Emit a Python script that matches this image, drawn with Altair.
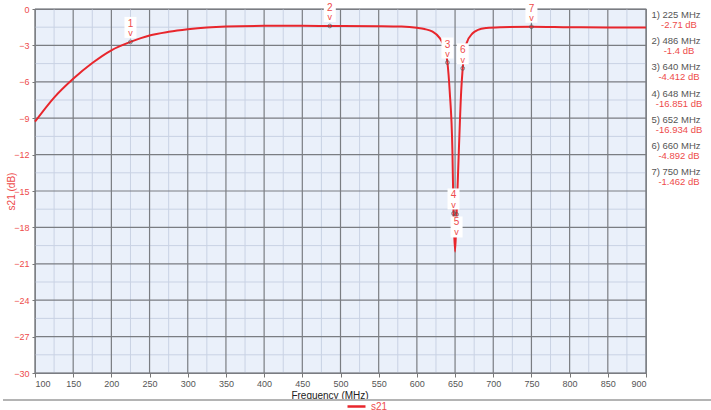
import altair as alt
import pandas as pd

# ---- data ----
freq = [100, 125, 150, 175, 200, 225, 250, 275, 300, 325, 350, 400, 450, 486, 550, 580, 600, 610, 620, 630,
        635, 640, 643, 646.5, 648, 650, 652, 655, 658, 660, 665, 673, 680, 691, 710, 750, 800, 850, 900]
s21 = [-9.29, -7.3, -5.75, -4.45, -3.4, -2.71, -2.18, -1.88, -1.67, -1.52, -1.44, -1.39, -1.38, -1.40, -1.42, -1.45, -1.55, -1.65, -1.85, -2.4,
       -3.0, -4.41, -6.8, -11.6, -16.85, -20.0, -16.93, -11.6, -6.8, -4.89, -2.83, -2.0, -1.72, -1.57, -1.5, -1.46, -1.5, -1.52, -1.53]

marker_no = [1, 2, 3, 4, 5, 6, 7]
marker_freq = [225, 486, 640, 648, 652, 660, 750]
marker_db = [-2.71, -1.4, -4.412, -16.851, -16.934, -4.892, -1.462]
marker_below = [False, False, False, False, True, False, False]

x_major = list(range(100, 901, 50))
x_minor = list(range(125, 900, 50))
y_major = list(range(-30, 1, 3))
y_minor = [-28.5, -25.5, -22.5, -19.5, -16.5, -13.5, -10.5, -7.5, -4.5, -1.5]

FONT = "Liberation Sans"
RED = "#e8262c"
LRED = "#ee4b4b"

curve = pd.DataFrame({"freq": freq, "s21": s21, "series": ["s21"] * len(freq)})
markers = pd.DataFrame({"no": marker_no, "f": marker_freq, "db": marker_db, "below": marker_below})

xs = alt.Scale(domain=[100, 900], nice=False, zero=False)
ys = alt.Scale(domain=[-30, 0], nice=False, zero=False)
xaxis = alt.Axis(values=x_major, title="Frequency (MHz)", grid=False, domain=False,
                 labelColor="#555555", labelFontSize=9, labelFont=FONT, labelPadding=2,
                 tickColor="#777777", tickSize=4, titleFont=FONT, titleFontSize=10,
                 titleFontWeight="normal", titleColor="#222222", titleX=294.5, titleY=22,
                 titleBaseline="middle", titleAnchor="start", titleAlign="center")
yaxis = alt.Axis(values=y_major, title="s21 (dB)", grid=False, domain=False,
                 labelColor=LRED, labelFontSize=9, labelFont=FONT, labelPadding=3,
                 tickColor="#777777", tickSize=3, titleFont=FONT, titleFontSize=10,
                 titleFontWeight="normal", titleColor=LRED, titleX=-24, titleBaseline="middle")


def X(field):
    return alt.X(field, type="quantitative", scale=xs, axis=xaxis)


def Y(field):
    return alt.Y(field, type="quantitative", scale=ys, axis=yaxis)


minor_x = alt.Chart(pd.DataFrame({"v": x_minor})).mark_rule(color="#c9d2e4", strokeWidth=1).encode(x=X("v"))
minor_y = alt.Chart(pd.DataFrame({"v": y_minor})).mark_rule(color="#c9d2e4", strokeWidth=1).encode(y=Y("v"))
major_x = alt.Chart(pd.DataFrame({"v": x_major})).mark_rule(color="#7a7d82", strokeWidth=1.2).encode(x=X("v"))
major_y = alt.Chart(pd.DataFrame({"v": y_major})).mark_rule(color="#7a7d82", strokeWidth=1.2).encode(y=Y("v"))

line = alt.Chart(curve).mark_line(strokeWidth=2, interpolate="monotone").encode(
    x=X("freq"), y=Y("s21"),
    color=alt.Color("series:N", scale=alt.Scale(domain=["s21"], range=[RED]),
                    legend=alt.Legend(title=None, orient="none", legendX=311, legendY=387,
                                      symbolType="stroke", symbolSize=324, symbolStrokeWidth=2.5,
                                      labelColor=LRED, labelFont=FONT, labelFontSize=10,
                                      padding=0, labelOffset=4)))

pts = alt.Chart(markers).mark_point(shape="circle", size=14, filled=False, color="#555555",
                                    strokeWidth=1).encode(x=X("f"), y=Y("db"))

above = alt.Chart(markers).transform_filter("!datum.below")
below = alt.Chart(markers).transform_filter("datum.below")

box_a = above.mark_rect(color="white", opacity=1, xOffset=-6, x2Offset=6, yOffset=-25, y2Offset=-4).encode(
    x=X("f"), x2="f", y=Y("db"), y2="db")
box_b = below.mark_rect(color="white", opacity=1, xOffset=-6, x2Offset=6, yOffset=2, y2Offset=23).encode(
    x=X("f"), x2="f", y=Y("db"), y2="db")

num_a = above.mark_text(font=FONT, fontSize=10, color=LRED, baseline="middle", yOffset=-18).encode(
    x=X("f"), y=Y("db"), text="no:N")
v_a = above.mark_text(font=FONT, fontSize=9, color=LRED, baseline="middle", yOffset=-8.5).encode(
    x=X("f"), y=Y("db"), text=alt.value("v"))
num_b = below.mark_text(font=FONT, fontSize=10, color=LRED, baseline="middle", yOffset=8).encode(
    x=X("f"), y=Y("db"), text="no:N")
v_b = below.mark_text(font=FONT, fontSize=9, color=LRED, baseline="middle", yOffset=17.5).encode(
    x=X("f"), y=Y("db"), text=alt.value("v"))

lst = alt.Chart(markers).transform_calculate(
    t1="datum.no + ') ' + datum.f + ' MHz'",
    t2="datum.db + ' dB'",
    py="(datum.no - 1) * 26.07 + 6.3",
    py2="(datum.no - 1) * 26.07 + 16.3",
)
list_f = lst.mark_text(font=FONT, fontSize=9.5, color="#555555", align="center", baseline="middle").encode(
    x=alt.value(641), y=alt.Y("py:Q", scale=None), text="t1:N")
list_v = lst.mark_text(font=FONT, fontSize=9.5, color=LRED, align="center", baseline="middle").encode(
    x=alt.value(644), y=alt.Y("py2:Q", scale=None), text="t2:N")

sep = alt.Chart(pd.DataFrame({"k": [0]})).mark_rect(color="#b4b4b4", opacity=1).encode(
    x=alt.value(-32), x2=alt.value(676), y=alt.value(390), y2=alt.value(392))

chart = alt.layer(minor_x, minor_y, major_x, major_y, line, pts, box_a, box_b,
                  num_a, v_a, num_b, v_b, list_f, list_v, sep).properties(
    width=611, height=364,
    padding={"left": 35, "top": 9, "right": 65, "bottom": 37},
    autosize=alt.AutoSizeParams(type="none"),
    background="white",
).configure_view(fill="#eaf0fa", stroke="#7a7d82", strokeWidth=1.2)

chart.save("out.html", embed_options={"renderer": "svg", "actions": False})
